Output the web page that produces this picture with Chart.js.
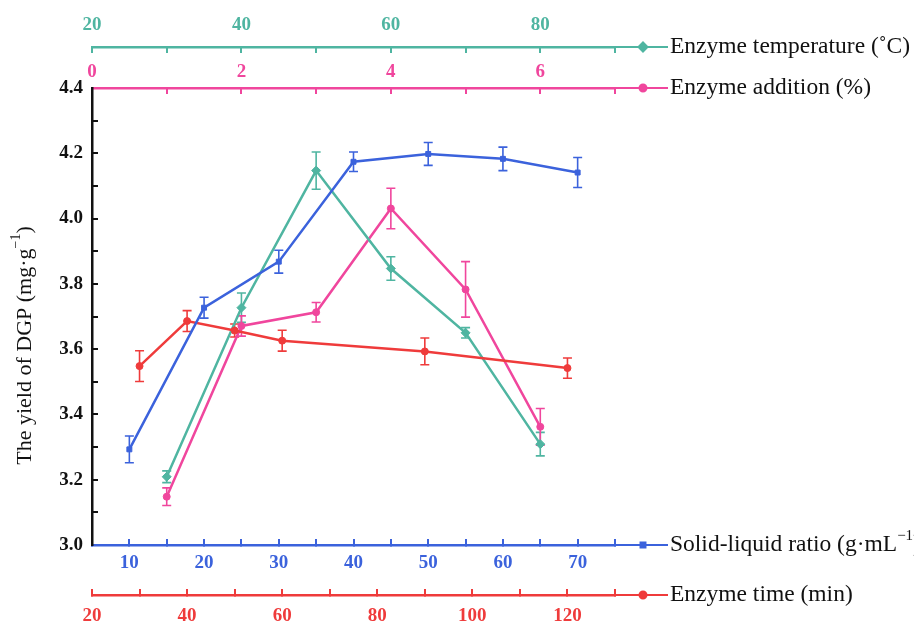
<!DOCTYPE html>
<html>
<head>
<meta charset="utf-8">
<script src="https://cdn.jsdelivr.net/npm/chart.js@4"></script>
<style>
  html, body { margin: 0; padding: 0; background: #fff; }
  #wrap { width: 914px; height: 630px; }
</style>
</head>
<body>
<div id="wrap"><canvas id="yield_Chart" width="914" height="630"></canvas></div>
<script>
// enzyme temperature (C)
const tempX = [30, 40, 50, 60, 70, 80];
const tempY = [3.209, 3.727, 4.147, 3.847, 3.650, 3.309];
const tempErr = [0.018, 0.045, 0.057, 0.036, 0.016, 0.036];
const tempRange = [20, 90];

// enzyme addition (%)
const addX = [1, 2, 3, 4, 5, 6];
const addY = [3.148, 3.671, 3.713, 4.031, 3.783, 3.362];
const addErr = [0.027, 0.031, 0.030, 0.062, 0.085, 0.056];
const addRange = [0, 7];

// solid-liquid ratio (g/mL)
const ratioX = [10, 20, 30, 40, 50, 60, 70];
const ratioY = [3.293, 3.727, 3.868, 4.174, 4.198, 4.183, 4.141];
const ratioErr = [0.041, 0.032, 0.035, 0.030, 0.035, 0.036, 0.046];
const ratioRange = [5, 75];

// enzyme time (min)
const timeX = [30, 40, 50, 60, 90, 120];
const timeY = [3.548, 3.686, 3.657, 3.626, 3.593, 3.542];
const timeErr = [0.047, 0.032, 0.020, 0.032, 0.041, 0.031];
const timeRange = [20, 130];

const yRange = [3.0, 4.4];

const TEAL = '#4fb5a1';
const PINK = '#f0469d';
const BLUE = '#3b62dc';
const RED = '#ef3b3b';

const tickFont = { family: 'Liberation Serif', size: 19, weight: 'bold' };

const toPoints = (xs, ys) => xs.map((x, i) => ({ x: x, y: ys[i] }));

function xAxis(position, weight, color, range, step, every, height, pad) {
    return {
        type: 'linear',
        position: position,
        weight: weight,
        min: range[0],
        max: range[1],
        afterFit: s => { s.height = height; },
        ticks: {
            stepSize: step,
            color: color,
            font: tickFont,
            padding: pad,
            maxRotation: 0,
            autoSkip: false,
            callback: v => (Math.round(v) % every === 0 ? v : '')
        },
        grid: { drawOnChartArea: false, color: color, tickLength: -6, lineWidth: 2 },
        border: { color: color, width: 2.5 }
    };
}

function series(label, xs, ys, errs, color, axis, style, radius) {
    return {
        label: label,
        data: toPoints(xs, ys),
        errors: errs,
        xAxisID: axis,
        yAxisID: 'y',
        showLine: true,
        borderColor: color,
        backgroundColor: color,
        borderWidth: 2.5,
        pointStyle: style,
        pointRadius: radius,
        pointBorderWidth: 1,
        pointBorderColor: color,
        pointBackgroundColor: color
    };
}

// vertical error bars with caps
const errorBars = {
    id: 'errorBars',
    beforeDatasetsDraw(chart) {
        const ctx = chart.ctx;
        const ys = chart.scales.y;
        chart.data.datasets.forEach((ds, i) => {
            const meta = chart.getDatasetMeta(i);
            ctx.save();
            ctx.strokeStyle = ds.borderColor;
            ctx.lineWidth = 1.6;
            meta.data.forEach((pt, j) => {
                const v = ds.data[j].y, e = ds.errors[j];
                const top = ys.getPixelForValue(v + e);
                const bot = ys.getPixelForValue(v - e);
                ctx.beginPath();
                ctx.moveTo(pt.x, top); ctx.lineTo(pt.x, bot);
                ctx.moveTo(pt.x - 4.5, top); ctx.lineTo(pt.x + 4.5, top);
                ctx.moveTo(pt.x - 4.5, bot); ctx.lineTo(pt.x + 4.5, bot);
                ctx.stroke();
            });
            ctx.restore();
        });
    }
};

function drawRich(ctx, parts, x, y, size) {
    parts.forEach(p => {
        if (p.sup) {
            ctx.font = Math.round(size * 0.62) + 'px "Liberation Serif"';
            ctx.fillText(p.t, x, y - size * 0.38);
        } else {
            ctx.font = size + 'px "Liberation Serif"';
            ctx.fillText(p.t, x, y);
        }
        x += ctx.measureText(p.t).width;
    });
}

function richWidth(ctx, parts, size) {
    let w = 0;
    parts.forEach(p => {
        ctx.font = (p.sup ? Math.round(size * 0.62) : size) + 'px "Liberation Serif"';
        w += ctx.measureText(p.t).width;
    });
    return w;
}

// axis-end legend entries and the y title
const axisLegend = {
    id: 'axisLegend',
    afterDraw(chart) {
        const ctx = chart.ctx;
        const items = [
            { id: 'xTemp', color: TEAL, style: 'rectRot', r: 4.5, parts: [{ t: 'Enzyme temperature (\u02DAC)' }] },
            { id: 'xAdd', color: PINK, style: 'circle', r: 3.5, parts: [{ t: 'Enzyme addition (%)' }] },
            { id: 'xRatio', color: BLUE, style: 'rect', r: 3.5, parts: [{ t: 'Solid-liquid ratio (g\u00B7mL' }, { t: '\u22121', sup: true }, { t: ')' }] },
            { id: 'xTime', color: RED, style: 'circle', r: 3.5, parts: [{ t: 'Enzyme time (min)' }] }
        ];
        items.forEach(it => {
            const sc = chart.scales[it.id];
            const y = sc.position === 'top' ? sc.bottom : sc.top;
            const x0 = sc.right;
            ctx.save();
            ctx.strokeStyle = it.color;
            ctx.lineWidth = 2;
            ctx.beginPath();
            ctx.moveTo(x0, y); ctx.lineTo(x0 + 53, y);
            ctx.stroke();
            ctx.fillStyle = it.color;
            Chart.helpers.drawPoint(ctx, { pointStyle: it.style, radius: it.r, borderWidth: 1 }, x0 + 28, y);
            ctx.fillStyle = '#111';
            ctx.textBaseline = 'middle';
            ctx.textAlign = 'left';
            drawRich(ctx, it.parts, x0 + 55, y, 23.5);
            ctx.restore();
        });

        // rotated y title, sitting a little below the axis middle
        const area = chart.chartArea;
        const tparts = [{ t: 'The yield of DGP (mg\u00B7g' }, { t: '\u22121', sup: true }, { t: ')' }];
        ctx.save();
        ctx.translate(25, (area.top + area.bottom) / 2 + 29);
        ctx.rotate(-Math.PI / 2);
        ctx.fillStyle = '#111';
        ctx.textBaseline = 'middle';
        ctx.textAlign = 'left';
        const w = richWidth(ctx, tparts, 22);
        drawRich(ctx, tparts, -w / 2, 0, 22);
        ctx.restore();
    }
};

const ctx = document.getElementById('yield_Chart').getContext('2d');

const config = {
    type: 'scatter',
    data: {
        datasets: [
            series('Solid-liquid ratio', ratioX, ratioY, ratioErr, BLUE, 'xRatio', 'rect', 3.5),
            series('Enzyme time', timeX, timeY, timeErr, RED, 'xTime', 'circle', 3.5),
            series('Enzyme temperature', tempX, tempY, tempErr, TEAL, 'xTemp', 'rectRot', 4.5),
            series('Enzyme addition', addX, addY, addErr, PINK, 'xAdd', 'circle', 3.5)
        ]
    },
    options: {
        responsive: false,
        animation: false,
        layout: { padding: { left: 0, right: 299, top: 0, bottom: 0 } },
        plugins: {
            legend: { display: false },
            tooltip: { enabled: false }
        },
        scales: {
            xTemp: xAxis('top', 2, TEAL, tempRange, 10, 20, 47, 17),
            xAdd: xAxis('top', 1, PINK, addRange, 1, 2, 41, 11),
            xRatio: xAxis('bottom', 1, BLUE, ratioRange, 5, 10, 50, 13),
            xTime: xAxis('bottom', 2, RED, timeRange, 10, 20, 35, 16),
            y: {
                type: 'linear',
                position: 'left',
                min: yRange[0],
                max: yRange[1],
                afterFit: s => { s.width = 92; },
                ticks: {
                    stepSize: 0.1,
                    color: '#111',
                    font: tickFont,
                    padding: 15,
                    autoSkip: false,
                    callback: v => (Math.round(v * 10) % 2 === 0 ? v.toFixed(1) : '')
                },
                grid: { drawOnChartArea: false, color: '#111', tickLength: -6, lineWidth: 2 },
                border: { color: '#111', width: 2.5 }
            }
        }
    },
    plugins: [errorBars, axisLegend]
};

const yieldChart = new Chart(ctx, config);
</script>
</body>
</html>
